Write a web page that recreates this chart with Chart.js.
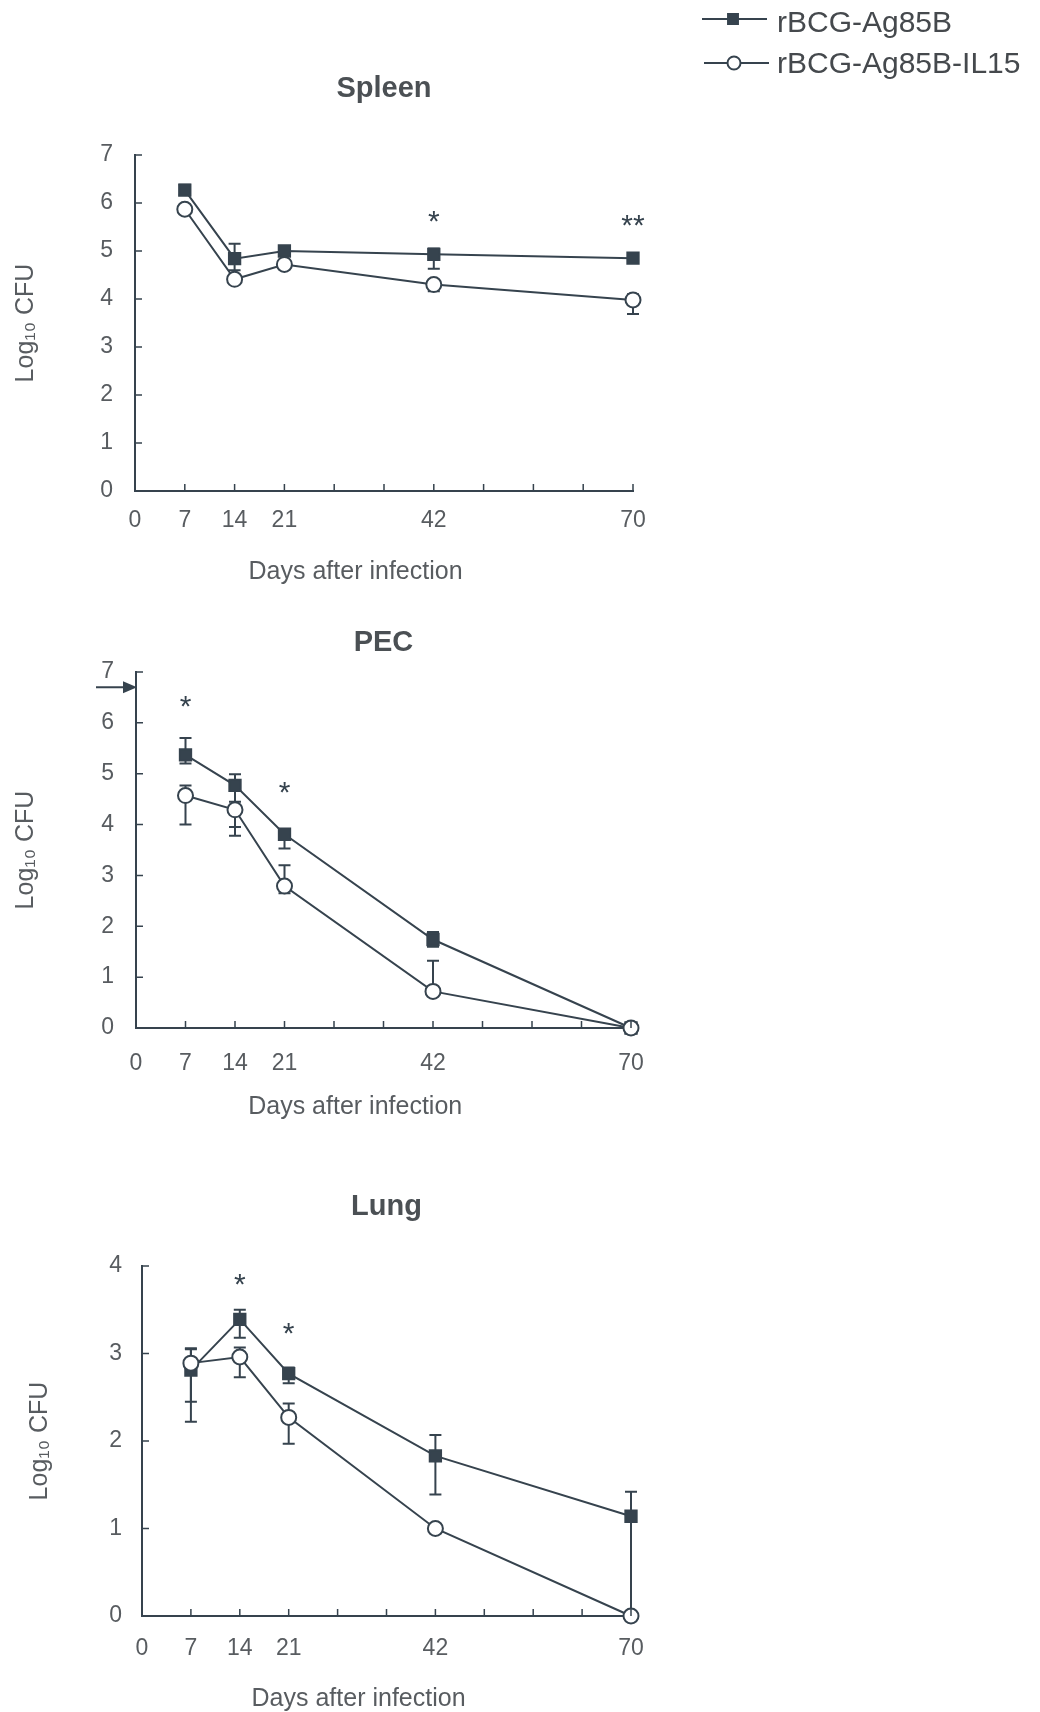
<!DOCTYPE html>
<html>
<head>
<meta charset="utf-8">
<title>CFU after infection</title>
<script src="https://cdn.jsdelivr.net/npm/chart.js@4.4.0/dist/chart.umd.min.js"></script>
<style>
  html, body { margin: 0; padding: 0; background: #fff; }
  body { width: 1040px; height: 1712px; position: relative; overflow: hidden; }
  canvas { position: absolute; left: 0; }
</style>
</head>
<body>
<canvas id="spleenChart" width="1040" height="600" style="top:0"></canvas>
<canvas id="pecChart" width="1040" height="540" style="top:600px"></canvas>
<canvas id="lungChart" width="1040" height="572" style="top:1140px"></canvas>
<script>
// ---- data ----
const days = [7, 14, 21, 42, 70];
const xTickLabels = [0, 7, 14, 21, 42, 70];
const seriesNames = ["rBCG-Ag85B", "rBCG-Ag85B-IL15"];
const xTitle = "Days after infection";
const yTitle = "Log\u2081\u2080 CFU";

// Spleen
const spleenAg85B = [6.27, 4.84, 5.0, 4.93, 4.85];
const spleenAg85BLow = [6.17, 4.6, 4.95, 4.63, 4.8];
const spleenAg85BHigh = [6.38, 5.15, 5.06, 5.05, 4.9];
const spleenIL15 = [5.87, 4.41, 4.72, 4.3, 3.98];
const spleenIL15Low = [5.8, 4.35, 4.65, 4.16, 3.69];
const spleenIL15High = [5.95, 4.48, 4.8, 4.38, 4.1];
const spleenStarDays = [42, 70];
const spleenStarText = ["*", "**"];
const spleenStarLevel = [5.58, 5.5];

// PEC
const pecAg85B = [5.37, 4.77, 3.81, 1.74, 0];
const pecAg85BLow = [5.2, 3.95, 3.53, 1.6, 0];
const pecAg85BHigh = [5.7, 4.99, 3.91, 1.89, 0];
const pecIL15 = [4.57, 4.29, 2.79, 0.72, 0];
const pecIL15Low = [4.0, 3.78, 2.65, 0.65, 0];
const pecIL15High = [4.77, 4.45, 3.2, 1.32, 0];
const pecStarDays = [7, 21];
const pecStarText = ["*", "*"];
const pecStarLevel = [6.3, 4.61];
const pecInoculum = 6.7;

// Lung
const lungAg85B = [2.81, 3.39, 2.77, 1.83, 1.14];
const lungAg85BLow = [2.45, 3.18, 2.66, 1.39, 0];
const lungAg85BHigh = [3.06, 3.5, 2.84, 2.07, 1.42];
const lungIL15 = [2.89, 2.96, 2.27, 1.0, 0];
const lungIL15Low = [2.22, 2.73, 1.97, 0.95, 0];
const lungIL15High = [3.05, 3.07, 2.43, 1.05, 0];
const lungStarDays = [14, 21];
const lungStarText = ["*", "*"];
const lungStarLevel = [3.78, 3.21];

// ---- styles ----
const DARK = "#36434e";
const TEXT = "#585c60";
const FONT = '"Liberation Sans", Arial, Helvetica, sans-serif';

Chart.defaults.font.family = FONT;
Chart.defaults.color = TEXT;

// error bars drawn under the markers
const errorBarPlugin = {
  id: "errorBars",
  beforeDatasetsDraw(chart) {
    const { ctx, scales: { x, y } } = chart;
    ctx.save();
    ctx.strokeStyle = DARK;
    ctx.lineWidth = 2;
    chart.data.datasets.forEach(ds => {
      ds.errLow.forEach((lo, i) => {
        const hi = ds.errHigh[i];
        const px = x.getPixelForValue(days[i]);
        const y1 = y.getPixelForValue(lo);
        const y2 = y.getPixelForValue(hi);
        if (Math.abs(y1 - y2) < 1) return;
        ctx.beginPath();
        ctx.moveTo(px, y1); ctx.lineTo(px, y2);
        ctx.moveTo(px - 6, y1); ctx.lineTo(px + 6, y1);
        ctx.moveTo(px - 6, y2); ctx.lineTo(px + 6, y2);
        ctx.stroke();
      });
    });
    ctx.restore();
  }
};

// tick marks pointing into the plot
const innerTicksPlugin = {
  id: "innerTicks",
  afterDraw(chart) {
    const { ctx, chartArea: a, scales: { x, y } } = chart;
    ctx.save();
    ctx.strokeStyle = DARK;
    ctx.lineWidth = 1.5;
    ctx.beginPath();
    x.ticks.forEach(t => {
      if (t.value === 0) return;
      const px = x.getPixelForValue(t.value);
      ctx.moveTo(px, a.bottom);
      ctx.lineTo(px, a.bottom - 7);
    });
    y.ticks.forEach(t => {
      if (t.value === 0) return;
      const py = y.getPixelForValue(t.value);
      ctx.moveTo(a.left, py);
      ctx.lineTo(a.left + 7, py);
    });
    ctx.stroke();
    ctx.restore();
  }
};

// panel title, x axis title, significance stars, inoculum arrow
const decorPlugin = {
  id: "decor",
  afterDraw(chart, args, opts) {
    const { ctx, chartArea: a, scales: { x, y } } = chart;
    ctx.save();
    ctx.textAlign = "center";
    ctx.textBaseline = "middle";
    ctx.fillStyle = "#4b5054";
    ctx.font = "bold 29px " + FONT;
    ctx.fillText(opts.title, (a.left + a.right) / 2, opts.titleY);

    ctx.fillStyle = TEXT;
    ctx.font = "25px " + FONT;
    ctx.fillText(xTitle, x.getPixelForValue(opts.xTitleAt), opts.xTitleY);

    ctx.fillStyle = DARK;
    ctx.font = "30px " + FONT;
    opts.starDays.forEach((d, i) => {
      ctx.fillText(opts.starText[i], x.getPixelForValue(d), y.getPixelForValue(opts.starLevel[i]));
    });

    if (opts.arrowLevel != null) {
      const py = y.getPixelForValue(opts.arrowLevel);
      ctx.strokeStyle = DARK;
      ctx.lineWidth = 2;
      ctx.beginPath();
      ctx.moveTo(a.left - 40, py);
      ctx.lineTo(a.left - 10, py);
      ctx.stroke();
      ctx.beginPath();
      ctx.moveTo(a.left + 1, py);
      ctx.lineTo(a.left - 13, py - 6);
      ctx.lineTo(a.left - 13, py + 6);
      ctx.closePath();
      ctx.fill();
    }
    ctx.restore();
  }
};

// series key in the top right corner
const keyPlugin = {
  id: "seriesKey",
  afterDraw(chart, args, opts) {
    const { ctx } = chart;
    ctx.save();
    opts.order.forEach((dsIndex, row) => {
      const ds = chart.data.datasets[dsIndex];
      const yy = opts.rowY[row];
      ctx.strokeStyle = ds.borderColor;
      ctx.lineWidth = 2;
      ctx.beginPath();
      ctx.moveTo(opts.lineFrom[row], yy);
      ctx.lineTo(opts.lineTo[row], yy);
      ctx.stroke();
      ctx.fillStyle = ds.pointBackgroundColor;
      ctx.strokeStyle = ds.pointBorderColor;
      Chart.helpers.drawPoint(ctx, {
        pointStyle: ds.pointStyle,
        radius: opts.markRadius[row],
        borderWidth: 2,
        rotation: 0
      }, opts.markX[row], yy);
      ctx.fillStyle = "#45494d";
      ctx.font = "30px " + FONT;
      ctx.textAlign = "left";
      ctx.textBaseline = "middle";
      ctx.fillText(ds.label, opts.textX, opts.textY[row]);
    });
    ctx.restore();
  }
};

function series(label, values, low, high, filled) {
  return {
    label: label,
    data: days.map((d, i) => ({ x: d, y: values[i] })),
    errLow: low,
    errHigh: high,
    borderColor: DARK,
    borderWidth: 2,
    pointStyle: filled ? "rect" : "circle",
    pointRadius: filled ? 8 : 7.5,
    pointBorderWidth: 2,
    pointBackgroundColor: filled ? DARK : "#ffffff",
    pointBorderColor: DARK,
    order: filled ? 1 : 0,
    clip: false,
    tension: 0
  };
}

function makePanel(id, p) {
  return new Chart(document.getElementById(id), {
    type: "line",
    data: {
      datasets: [
        series(seriesNames[0], p.filled, p.filledLow, p.filledHigh, true),
        series(seriesNames[1], p.open, p.openLow, p.openHigh, false)
      ]
    },
    options: {
      responsive: false,
      animation: false,
      layout: { padding: { left: 0, top: p.top, right: 1040 - p.right, bottom: 0 } },
      plugins: {
        legend: { display: false },
        tooltip: { enabled: false },
        decor: {
          title: p.title,
          titleY: p.titleY,
          xTitleAt: 31,
          xTitleY: p.xTitleY,
          starDays: p.starDays,
          starText: p.starText,
          starLevel: p.starLevel,
          arrowLevel: p.arrowLevel
        },
        seriesKey: p.key || { order: [] }
      },
      scales: {
        x: {
          type: "linear",
          min: 0,
          max: 70,
          afterFit: s => { s.height = p.height - p.bottom; },
          border: { display: true, color: DARK, width: 2 },
          grid: { display: false, drawTicks: false },
          ticks: {
            stepSize: 7,
            autoSkip: false,
            maxRotation: 0,
            padding: p.xPad,
            font: { size: 23 },
            color: TEXT,
            callback: v => xTickLabels.includes(v) ? String(v) : ""
          }
        },
        y: {
          min: 0,
          max: p.yMax,
          afterFit: s => { s.width = p.left; },
          border: { display: true, color: DARK, width: 2 },
          grid: { display: false, drawTicks: false },
          ticks: { stepSize: 1, padding: p.yPad, font: { size: 23 }, color: TEXT },
          title: {
            display: true,
            text: yTitle,
            font: { size: 25 },
            color: TEXT,
            padding: { top: p.yTitlePad, bottom: 0 }
          }
        }
      }
    },
    plugins: [errorBarPlugin, innerTicksPlugin, decorPlugin, keyPlugin]
  });
}

makePanel("spleenChart", {
  filled: spleenAg85B, filledLow: spleenAg85BLow, filledHigh: spleenAg85BHigh,
  open: spleenIL15, openLow: spleenIL15Low, openHigh: spleenIL15High,
  starDays: spleenStarDays, starText: spleenStarText, starLevel: spleenStarLevel,
  title: "Spleen", titleY: 89, xTitleY: 572, yMax: 7,
  left: 135, right: 633, top: 155, bottom: 491, height: 600,
  xPad: 16, yPad: 22, yTitlePad: 11,
  key: {
    order: [0, 1],
    rowY: [19, 63],
    textY: [24, 65],
    lineFrom: [702, 704],
    lineTo: [767, 769],
    markX: [733, 734],
    markRadius: [7, 6.5],
    textX: 777
  }
});

makePanel("pecChart", {
  filled: pecAg85B, filledLow: pecAg85BLow, filledHigh: pecAg85BHigh,
  open: pecIL15, openLow: pecIL15Low, openHigh: pecIL15High,
  starDays: pecStarDays, starText: pecStarText, starLevel: pecStarLevel,
  arrowLevel: pecInoculum,
  title: "PEC", titleY: 43, xTitleY: 507, yMax: 7,
  left: 136, right: 631, top: 72, bottom: 428, height: 540,
  xPad: 22, yPad: 22, yTitlePad: 11
});

makePanel("lungChart", {
  filled: lungAg85B, filledLow: lungAg85BLow, filledHigh: lungAg85BHigh,
  open: lungIL15, openLow: lungIL15Low, openHigh: lungIL15High,
  starDays: lungStarDays, starText: lungStarText, starLevel: lungStarLevel,
  title: "Lung", titleY: 67, xTitleY: 559, yMax: 4,
  left: 142, right: 631, top: 126, bottom: 476, height: 572,
  xPad: 19, yPad: 20, yTitlePad: 25
});
</script>
</body>
</html>
